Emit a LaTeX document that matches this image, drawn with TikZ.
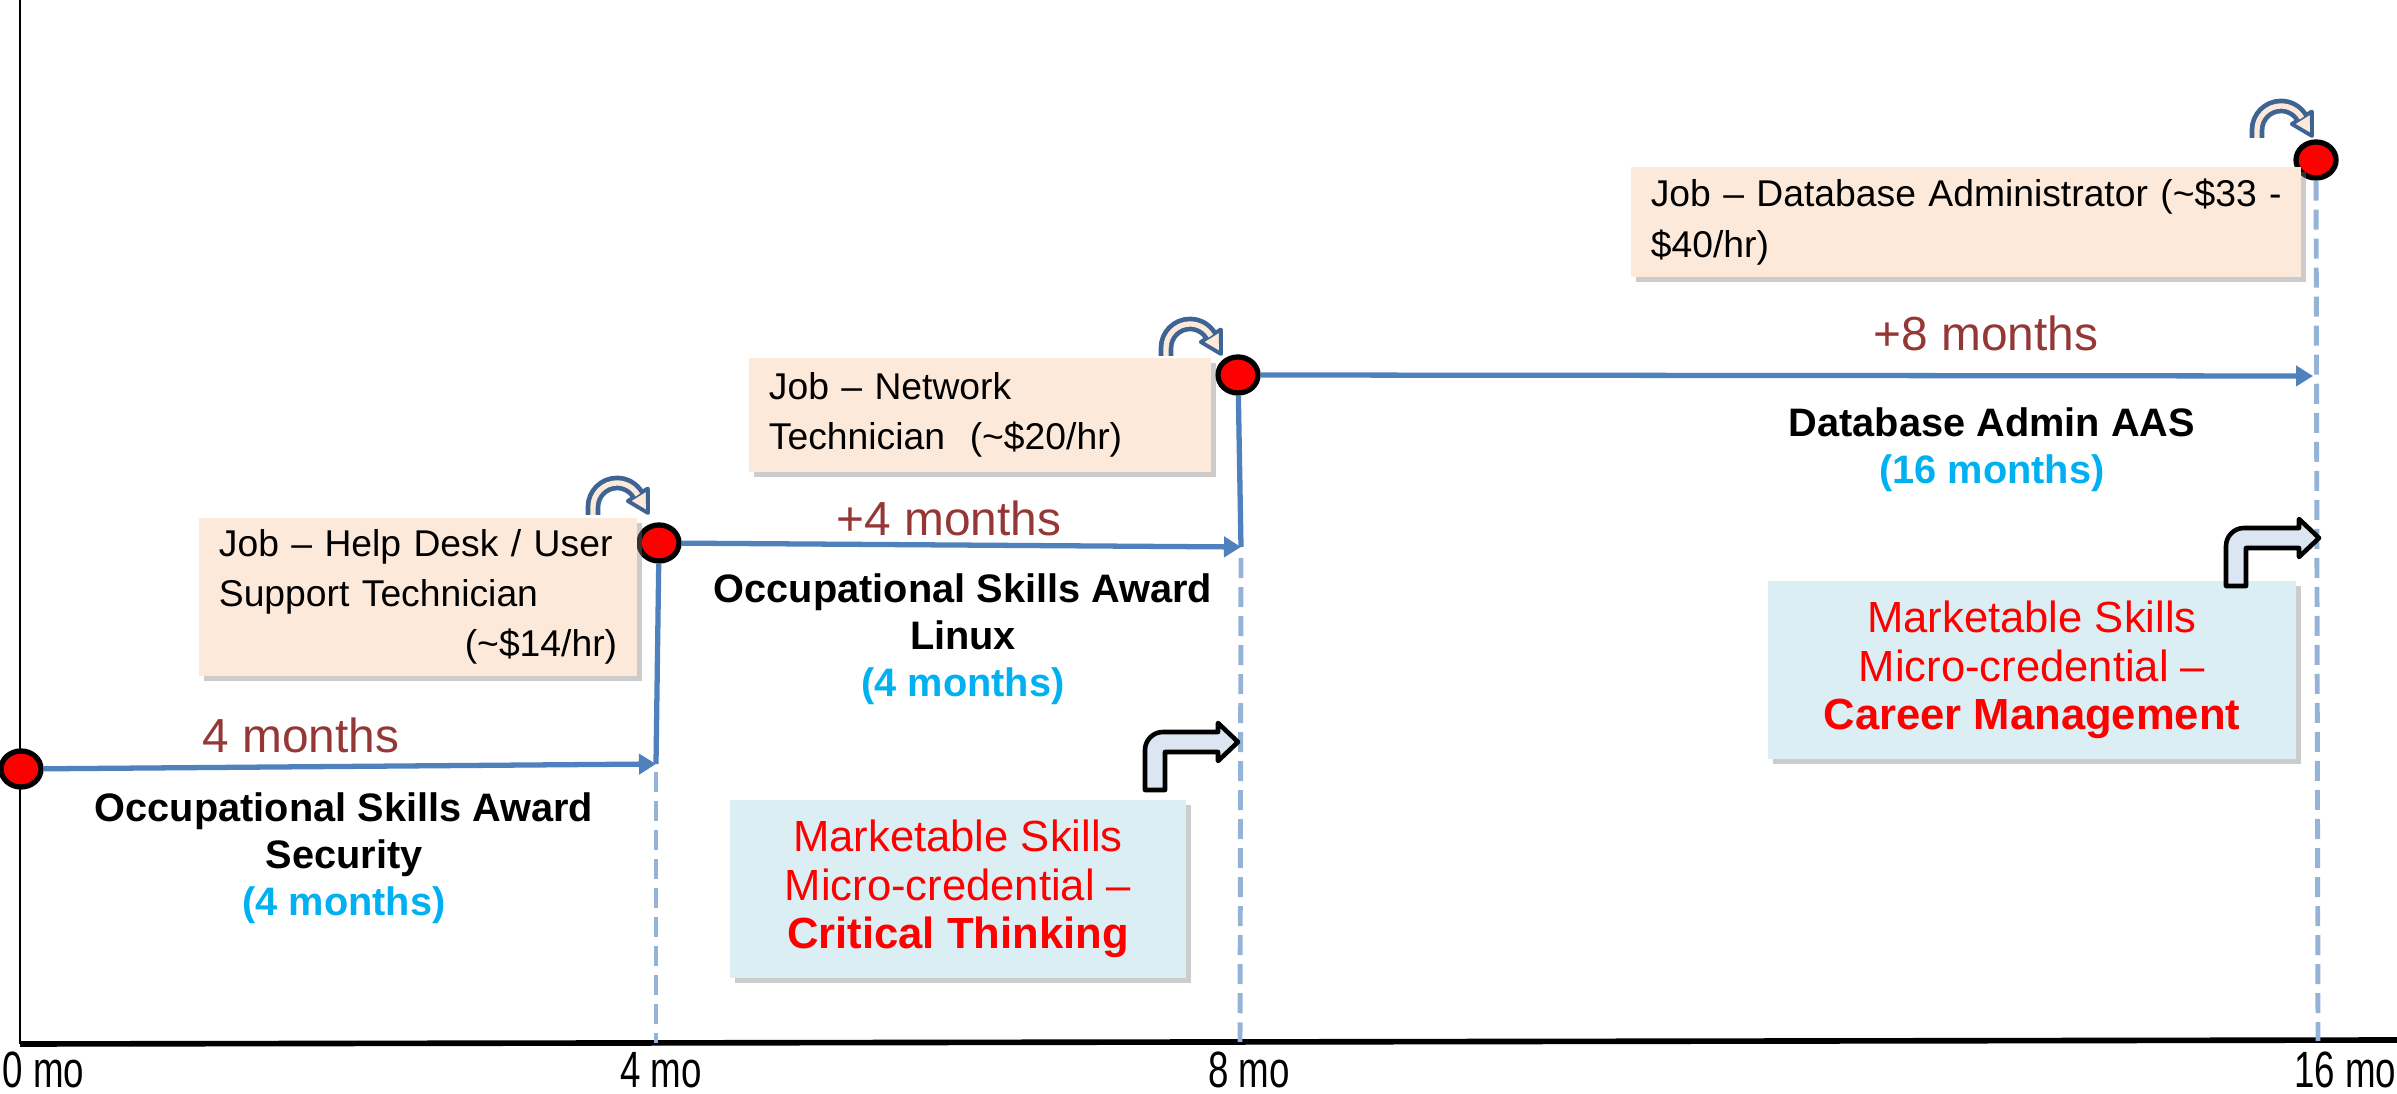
\documentclass[tikz,border=0pt]{standalone}
\usepackage{fontspec}
\setmainfont{Liberation Sans}
\usepackage{tikz}
\usetikzlibrary{arrows.meta, positioning, shapes.geometric, shadows}

\definecolor{pathblue}{HTML}{4F81BD}
\definecolor{guideblue}{HTML}{95B3D7}
\definecolor{monthbrown}{HTML}{953735}
\definecolor{skyblue}{HTML}{00B0F0}
\definecolor{peach}{HTML}{FDE9D9}
\definecolor{iceblue}{HTML}{DBEEF3}
\definecolor{bentfill}{HTML}{DCE6F2}
\definecolor{turnblue}{HTML}{3E6494}

\begin{document}
\begin{tikzpicture}[x=0.01cm, y=0.01cm, >={Triangle[length=0.17cm, width=0.2cm]},
  dot/.style={ellipse, draw=black, line width=1.5pt, fill=red, minimum width=0.40cm, minimum height=0.36cm, inner sep=0pt},
  flow/.style={->, draw=pathblue, line width=1.5pt},
  rise/.style={draw=pathblue, line width=1.5pt},
  guide/.style={draw=guideblue, line width=1.4pt, dash pattern=on 0.2cm off 0.09cm},
  months/.style={text=monthbrown, font=\fontsize{13.6}{16}\selectfont},
  award/.style={align=center, font=\fontsize{11.3}{13.4}\selectfont\bfseries},
  tick/.style={font=\fontsize{14.5}{16}\selectfont, inner xsep=0pt},
  job/.style={fill=peach, align=left, inner xsep=0.2cm, font=\fontsize{10.6}{14.3}\selectfont,
    drop shadow={shadow xshift=0.05cm, shadow yshift=-0.05cm, opacity=0.4}},
  mskill/.style={fill=iceblue, text=red, align=center, minimum height=1.77cm, font=\fontsize{12.4}{13.8}\selectfont,
    drop shadow={shadow xshift=0.05cm, shadow yshift=-0.05cm, opacity=0.4}},
  bent/.style={fill=bentfill, draw=black, line width=1.3pt, line join=round},
  uturn/.pic={
    \filldraw[fill=peach, draw=turnblue, line width=1.1pt, line join=round] (54.8,26.5) -- (55,2) -- (34.8,14) -- cycle;
    \draw[draw=turnblue, line width=0.047cm, double=peach, double distance=0.053cm] (0,0) -- (0,8) arc[start angle=180, end angle=30, radius=0.24cm];
  }]
  \useasboundingbox (0,0) rectangle (2397,1094);

  % axes
  \coordinate (o) at (20,50);
  \coordinate (xend) at (2397,54);
  \coordinate (ytop) at (20,1094);
  \draw[line width=0.6pt] (o) -- (ytop);
  \draw[line width=1.6pt] (o) -- (xend);
  \node[tick, anchor=west] (m0) at (2,24) {\scalebox{0.72}[1]{0 mo}};
  \node[tick] (m4) at (661,24) {\scalebox{0.72}[1]{4 mo}};
  \node[tick] (m8) at (1249,24) {\scalebox{0.72}[1]{8 mo}};
  \node[tick, anchor=east] (m16) at (2397,24) {\scalebox{0.72}[1]{16 mo}};

  % milestones
  \node[dot] (d0) at (21,325) {};
  \node[dot] (d4) at (659,551) {};
  \node[dot] (d8) at (1238,719) {};
  \node[dot] (d16) at (2316,934) {};
  \coordinate (t4) at (656,330);
  \coordinate (t8) at (1241,547);
  \coordinate (t16) at (2313,718);
  \coordinate (a4) at (656,51);
  \coordinate (a8) at (1240,52);
  \coordinate (a16) at (2318,53);

  \draw[guide] (t4) ++(0,-8) -- (a4);
  \draw[guide] (t8) ++(0,-11) -- (a8);
  \draw[guide] (d16) -- (a16);

  % steps
  \draw[flow] (d0) -- (t4);
  \draw[rise] (t4) -- (d4);
  \draw[flow] (d4) -- (t8);
  \draw[rise] (t8) -- (d8);
  \draw[flow] (d8) -- (t16);

  \node[months] (l4) at (301,359) {4 months};
  \node[months] (l8) at (949,576) {+4 months};
  \node[months] (l16) at (1986,761) {+8 months};

  \node[award] (sec) at (344,236) {Occupational Skills Award\\Security\\{\color{skyblue}(4 months)}};
  \node[award] (lin) at (963,455) {Occupational Skills Award\\Linux\\{\color{skyblue}(4 months)}};
  \node[award] (dba) at (1992,644) {Database Admin AAS\\{\color{skyblue}(16 months)}};

  % jobs
  \node[job, text width=3.98cm, minimum height=1.58cm] (j4) at (418,497)
    {Job -- Help Desk / User\\Support Technician\\\hspace*{\fill}(\textasciitilde\$14/hr)};
  \node[job, text width=4.22cm, minimum height=1.14cm] (j8) at (980,679)
    {Job -- Network\\Technician\ \ (\textasciitilde\$20/hr)};
  \node[job, text width=6.30cm, minimum height=1.10cm] (j16) at (1966,872)
    {\makebox[\linewidth][l]{Job -- Database Administrator (\textasciitilde\$33 -}\\\$40/hr)};

  \pic at (593,579) {uturn};
  \pic at (1166,738) {uturn};
  \pic at (2257,956) {uturn};

  % micro-credentials
  \node[mskill, minimum width=4.55cm] (ct) at (958,205)
    {Marketable Skills\\Micro-credential --\\\textbf{Critical Thinking}};
  \node[mskill, minimum width=5.27cm] (cm) at (2032,424)
    {Marketable Skills\\Micro-credential --\\\textbf{Career Management}};

  \filldraw[bent, shift={(1238,352)}] (-93,-48) -- (-93,-8) arc[start angle=180, end angle=90, radius=0.18cm]
    -- (-20,10) -- (-20,19) -- (0,0) -- (-20,-19) -- (-20,-10) -- (-73,-10) -- (-73,-48) -- cycle;
  \filldraw[bent, shift={(2319,556)}] (-93,-48) -- (-93,-8) arc[start angle=180, end angle=90, radius=0.18cm]
    -- (-20,10) -- (-20,19) -- (0,0) -- (-20,-19) -- (-20,-10) -- (-73,-10) -- (-73,-48) -- cycle;
\end{tikzpicture}
\end{document}
